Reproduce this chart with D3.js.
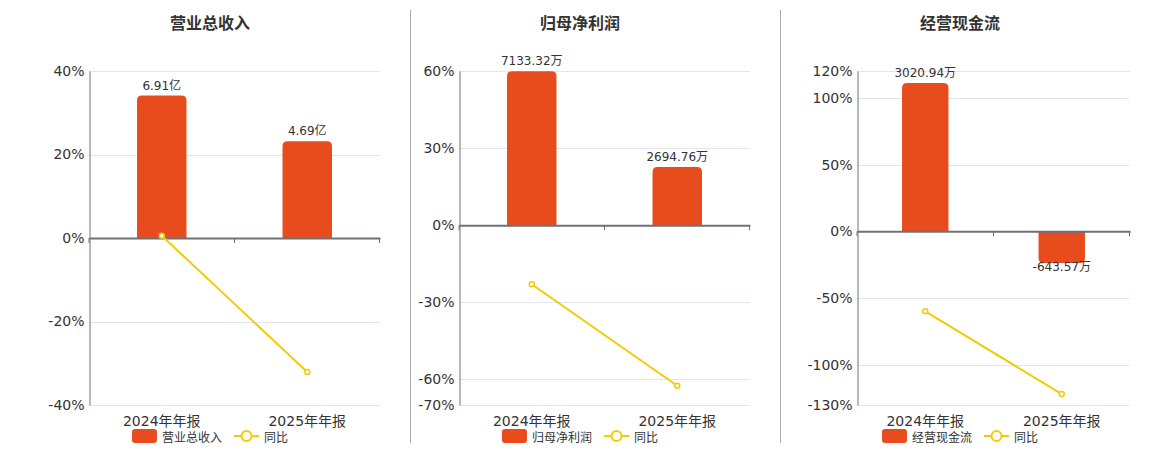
<!DOCTYPE html>
<html>
<head>
<meta charset="utf-8">
<script src="https://cdn.jsdelivr.net/npm/d3@7"></script>
<style>
  body { margin: 0; background: #fff; }
  svg { display: block; font-family: "DejaVu Sans", "Noto Sans CJK SC", sans-serif; }
</style>
</head>
<body>
<svg id="chart" width="1160" height="450"></svg>
<script>
const panelTitles = ["营业总收入", "归母净利润", "经营现金流"];
const categories = ["2024年年报", "2025年年报"];
const barValues = [[6.91, 4.69], [7133.32, 2694.76], [3020.94, -643.57]];
const barUnits = ["亿", "万", "万"];
const yoyValues = [[0.55, -32.1], [-23.0, -62.5], [-59.9, -121.8]];
const pctTicks = [
  [-40, -20, 0, 20, 40],
  [-70, -60, -30, 0, 30, 60],
  [-130, -100, -50, 0, 50, 100, 120],
];
// bar (amount) axis value that lines up with the top of the % axis
const barAxisTop = [8.1, 7140, 3266];
const legendYoy = "同比";

const W = 1160, H = 450;
const TOP = 71, BOTTOM = 405;
const centers = [210, 580, 960];
const plotLefts = [89, 459, 857];
const plotRights = [380, 750, 1130];
const dividers = [410, 780];

const BAR_COLOR = "#E84C1D";
const LINE_COLOR = "#F2CB05";
const AXIS_COLOR = "#6E7079";
const GRID_COLOR = "#E0E6F1";
const TEXT_COLOR = "#333";

const svg = d3.select("#chart");

dividers.forEach((x) => {
  svg.append("line")
    .attr("x1", x + 0.5).attr("x2", x + 0.5)
    .attr("y1", 10).attr("y2", 443)
    .attr("stroke", "#aaa").attr("stroke-width", 1);
});

panelTitles.forEach((title, i) => {
  const g = svg.append("g");
  const ticks = pctTicks[i];
  const pMin = d3.min(ticks), pMax = d3.max(ticks);

  const x = d3.scaleBand()
    .domain(categories)
    .range([plotLefts[i], plotRights[i]]);

  const y = d3.scaleLinear().domain([pMin, pMax]).range([BOTTOM, TOP]);

  const yBar = d3.scaleLinear()
    .domain([barAxisTop[i] * pMin / pMax, barAxisTop[i]])
    .range([BOTTOM, TOP]);

  // title
  g.append("text")
    .attr("x", centers[i]).attr("y", 23)
    .attr("text-anchor", "middle").attr("dominant-baseline", "central")
    .attr("font-size", 16).attr("font-weight", "bold")
    .attr("fill", TEXT_COLOR)
    .text(title);

  // grid lines
  g.append("g")
    .selectAll("line")
    .data(ticks.filter((t) => t !== 0))
    .join("line")
    .attr("x1", plotLefts[i]).attr("x2", plotRights[i])
    .attr("y1", (d) => Math.round(y(d)) + 0.5)
    .attr("y2", (d) => Math.round(y(d)) + 0.5)
    .attr("stroke", GRID_COLOR);

  // y axis
  const yAxis = g.append("g")
    .attr("transform", `translate(${plotLefts[i] + 0.5},0)`)
    .call(d3.axisLeft(y).tickValues(ticks).tickSize(0).tickPadding(5)
      .tickFormat((d) => d + "%"));
  yAxis.select(".domain").attr("stroke", AXIS_COLOR);
  yAxis.selectAll("text")
    .attr("font-size", 14).attr("fill", TEXT_COLOR)
    .attr("font-family", "DejaVu Sans, sans-serif");

  // bars
  const bw = x.bandwidth() * 0.34;
  const bars = g.append("g");
  barValues[i].forEach((v, j) => {
    const cx = x(categories[j]) + x.bandwidth() / 2;
    const y0 = yBar(0), y1 = yBar(v);
    const h = Math.abs(y1 - y0);
    const r = Math.min(5, h);
    const left = cx - bw / 2, right = cx + bw / 2;
    let path;
    if (v >= 0) {
      path = `M${left},${y0} V${y1 + r} Q${left},${y1} ${left + r},${y1} H${right - r} Q${right},${y1} ${right},${y1 + r} V${y0} Z`;
    } else {
      path = `M${left},${y0} V${y1 - r} Q${left},${y1} ${left + r},${y1} H${right - r} Q${right},${y1} ${right},${y1 - r} V${y0} Z`;
    }
    bars.append("path").attr("d", path).attr("fill", BAR_COLOR);

    bars.append("text")
      .attr("x", cx)
      .attr("y", v >= 0 ? y1 - 10 : y1 + 4)
      .attr("text-anchor", "middle").attr("dominant-baseline", "central")
      .attr("font-size", 12).attr("fill", TEXT_COLOR)
      .text(v + barUnits[i]);
  });

  // x axis on zero
  const xAxis = g.append("g")
    .attr("transform", `translate(0,${y(0)})`)
    .call(d3.axisBottom(x).tickSize(0).tickFormat(() => ""));
  xAxis.select(".domain").attr("stroke", AXIS_COLOR).attr("stroke-width", 2);
  g.append("g")
    .selectAll("line")
    .data(d3.range(categories.length + 1))
    .join("line")
    .attr("x1", (k) => plotLefts[i] + k * x.step() - (k === categories.length ? 0.5 : 0))
    .attr("x2", (k) => plotLefts[i] + k * x.step() - (k === categories.length ? 0.5 : 0))
    .attr("y1", y(0)).attr("y2", y(0) + 5)
    .attr("stroke", AXIS_COLOR);

  // category labels
  g.append("g")
    .selectAll("text")
    .data(categories)
    .join("text")
    .attr("x", (d) => x(d) + x.bandwidth() / 2)
    .attr("y", 421)
    .attr("text-anchor", "middle").attr("dominant-baseline", "central")
    .attr("font-size", 14).attr("fill", TEXT_COLOR)
    .text((d) => d);

  // yoy line
  const pts = yoyValues[i].map((v, j) => [x(categories[j]) + x.bandwidth() / 2, y(v)]);
  g.append("path")
    .attr("d", d3.line()(pts))
    .attr("fill", "none").attr("stroke", LINE_COLOR).attr("stroke-width", 2);
  g.append("g")
    .selectAll("circle")
    .data(pts)
    .join("circle")
    .attr("cx", (d) => d[0]).attr("cy", (d) => d[1]).attr("r", 2.5)
    .attr("fill", "#fff").attr("stroke", LINE_COLOR).attr("stroke-width", 1.5);

  // legend
  const lg = g.append("g");
  const t1 = lg.append("text")
    .attr("font-size", 12).attr("fill", TEXT_COLOR)
    .attr("font-family", "Noto Sans CJK SC, sans-serif")
    .attr("dominant-baseline", "central").text(title);
  const t1w = t1.node().getComputedTextLength();
  const t2 = lg.append("text")
    .attr("font-size", 12).attr("fill", TEXT_COLOR)
    .attr("font-family", "Noto Sans CJK SC, sans-serif")
    .attr("dominant-baseline", "central").text(legendYoy);
  const t2w = t2.node().getComputedTextLength();
  const iconW = 25, gap = 5, itemGap = 12;
  const total = iconW + gap + t1w + itemGap + iconW + gap + t2w;
  const lx = centers[i] - total / 2;
  const ly = 436;
  lg.append("rect")
    .attr("x", lx).attr("y", ly - 7).attr("width", iconW).attr("height", 14)
    .attr("rx", 3).attr("fill", BAR_COLOR);
  t1.attr("x", lx + iconW + gap).attr("y", ly);
  const lx2 = lx + iconW + gap + t1w + itemGap;
  lg.append("line")
    .attr("x1", lx2).attr("x2", lx2 + iconW).attr("y1", ly).attr("y2", ly)
    .attr("stroke", LINE_COLOR).attr("stroke-width", 2);
  lg.append("circle")
    .attr("cx", lx2 + iconW / 2).attr("cy", ly).attr("r", 5)
    .attr("fill", "#fff").attr("stroke", LINE_COLOR).attr("stroke-width", 2);
  t2.attr("x", lx2 + iconW + gap).attr("y", ly);
});
</script>
</body>
</html>
